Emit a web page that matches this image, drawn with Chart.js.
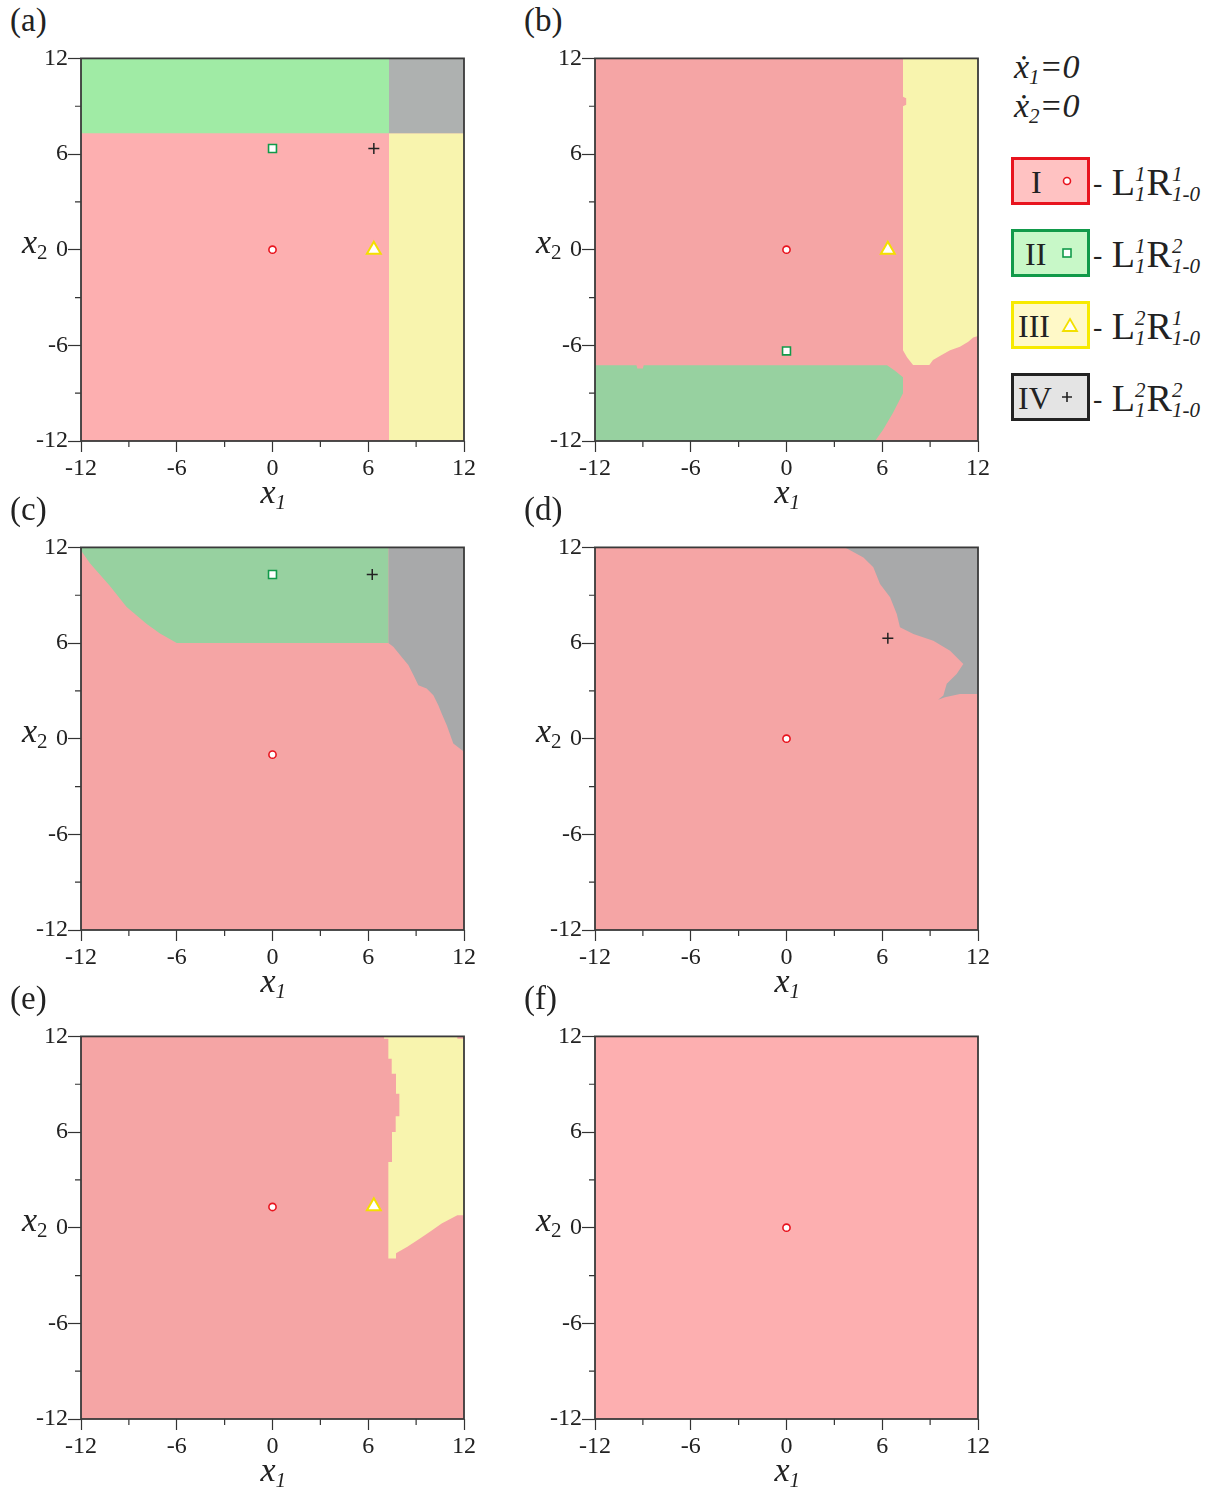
<!DOCTYPE html>
<html>
<head>
<meta charset="utf-8">
<script src="https://cdn.jsdelivr.net/npm/chart.js@4"></script>
<style>
  body { margin: 0; background: #fff; font-family: "Liberation Serif", serif; color: #222; }
  #page { position: relative; width: 1213px; height: 1491px; }
  .panel { position: absolute; }
  .txt { position: absolute; white-space: nowrap; line-height: 1; }
  .plab { font-size: 33px; }
  .ax { font-size: 34px; font-style: italic; }
  .ax sub { font-size: 21px; vertical-align: -0.3em; line-height: 0; }
  .box { position: absolute; width: 73px; height: 42px; border: 3px solid; box-sizing: content-box; }
  .box span { position: absolute; top: 6px; font-size: 32px; line-height: 1; }
  .box svg { display: block; }
  .lab { position: absolute; font-size: 38px; line-height: 1; }
  .ss { display: inline-block; vertical-align: -0.28em; font-size: 21px; font-style: italic; line-height: 0.95; margin-right: 1px; }
  .ss b { display: block; font-weight: normal; }
</style>
</head>
<body>
<div id="page"></div>
<script>
// axis setup
const AXIS_MIN = -12;
const AXIS_MAX = 12;
const TICK_LABELS = [-12, -6, 0, 6, 12];
const MINOR_TICKS = [-9, -3, 3, 9];

// whole square, region I is the background of every panel
const fullSquare = [[-12, -12], [12, -12], [12, 12], [-12, 12]];

// panel (a)
const aGreen = [[-12, 7.3], [7.3, 7.3], [7.3, 12], [-12, 12]];
const aGray = [[7.3, 7.3], [12, 7.3], [12, 12], [7.3, 12]];
const aYellow = [[7.3, -12], [12, -12], [12, 7.3], [7.3, 7.3]];

// panel (b)
const bYellow = [[7.3, 12], [12, 12], [12, -5.42], [11.7, -5.5], [11.39, -5.78], [10.87, -6.09],
  [10.25, -6.3], [9.72, -6.61], [9.18, -6.92], [8.95, -7.24], [7.93, -7.24], [7.55, -6.74],
  [7.3, -6.3], [7.3, 9.0], [7.5, 9.1], [7.5, 9.5], [7.3, 9.6]];
const bGreen = [[-12, -7.25], [-9.4, -7.25], [-9.35, -7.45], [-9.0, -7.45], [-8.95, -7.25],
  [6.3, -7.25], [6.8, -7.6], [7.3, -8.0], [7.3, -9.0], [6.67, -10.25], [6.05, -11.3],
  [5.55, -12], [-12, -12]];

// panel (c)
const cGreen = [[-12, 12], [-12, 11.8], [-11.44, 11.0], [-10.2, 9.6], [-9.14, 8.26], [-7.88, 7.2],
  [-7.05, 6.6], [-6.0, 6.0], [7.26, 6.0], [7.26, 12]];
const cGray = [[7.26, 12], [12, 12], [12, -0.82], [11.33, -0.3], [10.92, 0.85], [10.6, 1.58],
  [10.39, 2.1], [10.08, 2.73], [9.66, 3.15], [9.14, 3.36], [8.83, 3.99], [8.51, 4.62],
  [7.99, 5.25], [7.57, 5.77], [7.26, 6.0]];

// panel (d)
const dGray = [[3.67, 12], [12, 12], [12, 2.81], [10.87, 2.81], [9.93, 2.6], [9.5, 2.45],
  [9.83, 2.71], [10.04, 3.44], [10.66, 4.06], [11.08, 4.69], [10.25, 5.52], [9.2, 6.15],
  [7.95, 6.57], [7.11, 6.99], [6.91, 7.82], [6.49, 8.87], [5.86, 9.7], [5.44, 10.75], [4.82, 11.37]];

// panel (e)
const eYellow = [[6.99, 12], [11.58, 12], [11.58, 11.85], [12, 11.85], [12, 0.78], [11.58, 0.78],
  [10.6, 0.26], [9.91, -0.22], [9.24, -0.68], [8.45, -1.2], [7.74, -1.6], [7.74, -1.93],
  [7.26, -1.93], [7.26, 4.12], [7.49, 4.12], [7.49, 6.0], [7.72, 6.0], [7.72, 6.99],
  [7.95, 6.99], [7.95, 8.41], [7.74, 8.41], [7.74, 9.66], [7.47, 9.66], [7.47, 10.6],
  [7.26, 10.6], [7.26, 11.85], [6.99, 11.85]];

// equilibrium points
const aPoints = { circle: [[0, 0]], rect: [[0, 6.35]], triangle: [[6.35, 0]], cross: [[6.35, 6.35]] };
const bPoints = { circle: [[0, 0]], rect: [[0, -6.35]], triangle: [[6.35, 0]] };
const cPoints = { circle: [[0, -1.0]], rect: [[0, 10.3]], cross: [[6.25, 10.3]] };
const dPoints = { circle: [[0, 0]], cross: [[6.35, 6.3]] };
const ePoints = { circle: [[0, 1.3]], triangle: [[6.35, 1.35]] };
const fPoints = { circle: [[0, 0]] };

const PINK_LIGHT = "#fdafb0";
const PINK = "#f5a5a5";
const GREEN_LIGHT = "#a0eba5";
const GREEN = "#97d1a0";
const GRAY_LIGHT = "#aeb1b0";
const GRAY = "#a8a9aa";
const YELLOW = "#f8f4ae";

const markerStyle = {
  circle: { pointStyle: "circle", radius: 3.6, color: "#e8141e", bg: "#fff", bw: 1.6 },
  rect: { pointStyle: "rect", radius: 5.6, color: "#119a4a", bg: "#fff", bw: 1.6 },
  triangle: { pointStyle: "triangle", radius: 8, color: "#f3e000", bg: "#fff", bw: 2 },
  cross: { pointStyle: "cross", radius: 5.5, color: "#222", bg: "#222", bw: 1.5 }
};

const panels = [
  { id: "a", left: 81, top: 58, bg: PINK_LIGHT, regions: [[aGreen, GREEN_LIGHT], [aGray, GRAY_LIGHT], [aYellow, YELLOW]], points: aPoints },
  { id: "b", left: 595, top: 58, bg: PINK, regions: [[bYellow, YELLOW], [bGreen, GREEN]], points: bPoints },
  { id: "c", left: 81, top: 547, bg: PINK, regions: [[cGreen, GREEN], [cGray, GRAY]], points: cPoints },
  { id: "d", left: 595, top: 547, bg: PINK, regions: [[dGray, GRAY]], points: dPoints },
  { id: "e", left: 81, top: 1036, bg: PINK, regions: [[eYellow, YELLOW]], points: ePoints },
  { id: "f", left: 595, top: 1036, bg: PINK_LIGHT, regions: [], points: fPoints }
];

const PLOT = 383;
const M_LEFT = 62, M_TOP = 14, M_RIGHT = 22, M_BOTTOM = 45;

// frame round the plot and the short minor ticks
const framePlugin = {
  id: "frame",
  afterDraw(chart) {
    const ctx = chart.ctx;
    const a = chart.chartArea;
    const xs = chart.scales.x, ys = chart.scales.y;
    ctx.save();
    ctx.strokeStyle = "#333";
    ctx.lineWidth = 1.2;
    ctx.beginPath();
    MINOR_TICKS.forEach(v => {
      const px = xs.getPixelForValue(v);
      ctx.moveTo(px, a.bottom);
      ctx.lineTo(px, a.bottom + 6);
      const py = ys.getPixelForValue(v);
      ctx.moveTo(a.left, py);
      ctx.lineTo(a.left - 6, py);
    });
    ctx.stroke();
    ctx.strokeStyle = "#3a3a3a";
    ctx.lineWidth = 1.8;
    ctx.strokeRect(a.left, a.top, a.right - a.left, a.bottom - a.top);
    ctx.restore();
  }
};

function toXY(arr) {
  return arr.map(p => ({ x: p[0], y: p[1] }));
}

function regionSet(poly, color, order) {
  return {
    data: toXY(poly),
    showLine: true,
    fill: "shape",
    backgroundColor: color,
    borderColor: "rgba(0,0,0,0)",
    borderWidth: 0,
    pointRadius: 0,
    tension: 0,
    order: order
  };
}

const page = document.getElementById("page");

function addText(html, cls, left, top) {
  const d = document.createElement("div");
  d.className = "txt " + cls;
  d.style.left = left + "px";
  d.style.top = top + "px";
  d.innerHTML = html;
  page.appendChild(d);
  return d;
}

panels.forEach(p => {
  const wrap = document.createElement("div");
  wrap.className = "panel";
  wrap.style.left = (p.left - M_LEFT) + "px";
  wrap.style.top = (p.top - M_TOP) + "px";
  const canvas = document.createElement("canvas");
  canvas.width = M_LEFT + PLOT + M_RIGHT;
  canvas.height = M_TOP + PLOT + M_BOTTOM;
  canvas.style.width = canvas.width + "px";
  canvas.style.height = canvas.height + "px";
  wrap.appendChild(canvas);
  page.appendChild(wrap);

  const datasets = [regionSet(fullSquare, p.bg, 3)];
  p.regions.forEach(r => datasets.push(regionSet(r[0], r[1], 2)));
  for (const kind in p.points) {
    const s = markerStyle[kind];
    datasets.push({
      data: toXY(p.points[kind]),
      pointStyle: s.pointStyle,
      pointRadius: s.radius,
      pointBorderColor: s.color,
      pointBackgroundColor: s.bg,
      pointBorderWidth: s.bw,
      order: 0
    });
  }

  const tickFont = { family: "'Liberation Serif', serif", size: 24 };

  new Chart(canvas, {
    type: "scatter",
    data: { datasets: datasets },
    options: {
      responsive: false,
      animation: false,
      events: [],
      layout: { padding: { top: M_TOP, right: M_RIGHT, left: 0, bottom: 0 } },
      plugins: { legend: { display: false }, tooltip: { enabled: false } },
      scales: {
        x: {
          type: "linear", min: AXIS_MIN, max: AXIS_MAX,
          afterFit: s => { s.height = M_BOTTOM; },
          afterBuildTicks: s => { s.ticks = TICK_LABELS.map(v => ({ value: v })); },
          ticks: { font: tickFont, color: "#222", padding: 2, maxRotation: 0, callback: v => String(v) },
          grid: { drawOnChartArea: false, tickLength: 11, tickColor: "#333", tickWidth: 1.2 },
          border: { display: false }
        },
        y: {
          type: "linear", min: AXIS_MIN, max: AXIS_MAX,
          afterFit: s => { s.width = M_LEFT; },
          afterBuildTicks: s => { s.ticks = TICK_LABELS.map(v => ({ value: v })); },
          ticks: { font: tickFont, color: "#222", padding: 0, callback: v => String(v) },
          grid: { drawOnChartArea: false, tickLength: 13, tickColor: "#333", tickWidth: 1.2 },
          border: { display: false }
        }
      }
    },
    plugins: [framePlugin]
  });

  // panel letter and axis titles
  addText("(" + p.id + ")", "plab", p.left - 71, p.top - 54);
  addText("x<sub>1</sub>", "ax", p.left + PLOT / 2 - 12, p.top + PLOT + 34);
  addText("x<sub style='font-style:normal'>2</sub>", "ax", p.left - 59, p.top + PLOT / 2 - 25);
});

// legend
addText("ẋ<sub>1</sub>=0", "ax", 1014, 50);
addText("ẋ<sub>2</sub>=0", "ax", 1014, 89);

const legendRows = [
  { num: "I", fill: "#ffc2c2", edge: "#e8141e", top: 157, sup1: "1", sup2: "1", mark: "circle" },
  { num: "II", fill: "#c8f8c8", edge: "#119a4a", top: 229, sup1: "1", sup2: "2", mark: "rect" },
  { num: "III", fill: "#fff9c8", edge: "#f7ea00", top: 301, sup1: "2", sup2: "1", mark: "triangle" },
  { num: "IV", fill: "#e4e4e4", edge: "#222", top: 373, sup1: "2", sup2: "2", mark: "cross" }
];

const markSvg = {
  circle: '<svg width="12" height="12"><circle cx="6" cy="6" r="3.5" fill="#fff" stroke="#e8141e" stroke-width="1.6"/></svg>',
  rect: '<svg width="12" height="12"><rect x="2" y="2" width="8" height="8" fill="#fff" stroke="#119a4a" stroke-width="1.6"/></svg>',
  triangle: '<svg width="18" height="16"><polygon points="9,2 16,14 2,14" fill="#fff" stroke="#f3e000" stroke-width="1.8"/></svg>',
  cross: '<svg width="12" height="12"><path d="M6 1V11M1 6H11" stroke="#222" stroke-width="1.6"/></svg>'
};

const numLeftByRow = { "I": 17, "II": 11, "III": 4, "IV": 4 };

legendRows.forEach(r => {
  const box = document.createElement("div");
  box.className = "box";
  box.style.left = "1011px";
  box.style.top = r.top + "px";
  box.style.background = r.fill;
  box.style.borderColor = r.edge;
  const tri = r.mark === "triangle";
  box.innerHTML = '<span style="left:' + numLeftByRow[r.num] + 'px">' + r.num + '</span>' +
    '<span style="left:' + (tri ? 47 : 47) + 'px;top:' + (tri ? 13 : 15) + 'px">' + markSvg[r.mark] + '</span>';
  page.appendChild(box);

  const lab = document.createElement("div");
  lab.className = "lab";
  lab.style.left = "1093px";
  lab.style.top = (r.top + 6) + "px";
  lab.innerHTML = '<span style="font-size:28px;vertical-align:0.1em">-</span> L<span class="ss"><b>' + r.sup1 +
    '</b><b>1</b></span>R<span class="ss"><b>' + r.sup2 + '</b><b>1-0</b></span>';
  page.appendChild(lab);
});
</script>
</body>
</html>
